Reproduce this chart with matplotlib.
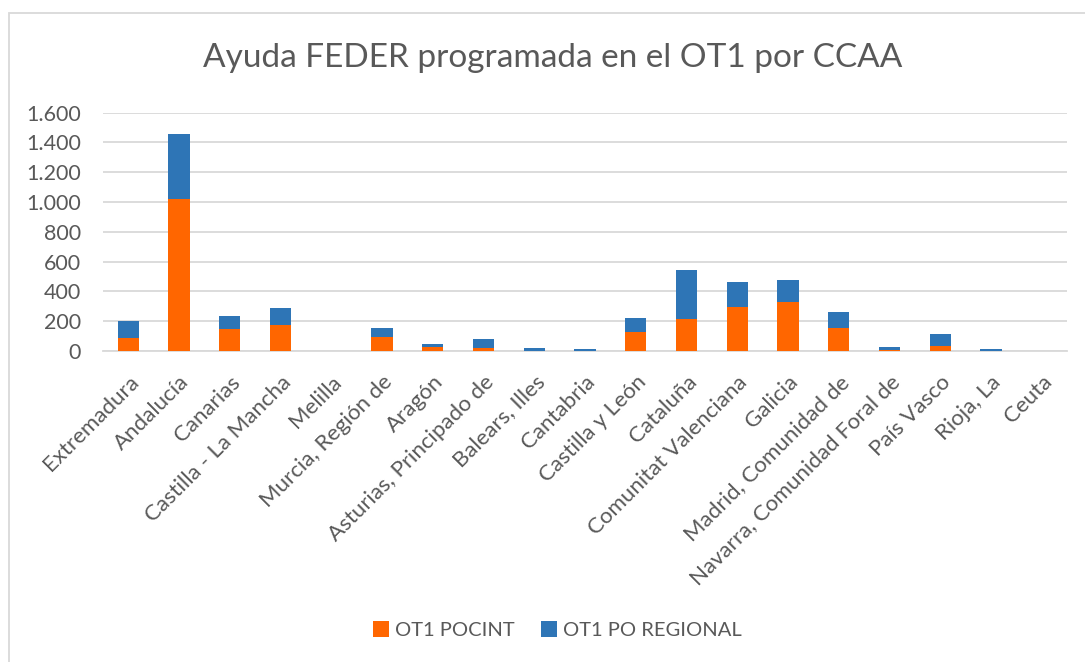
import matplotlib.pyplot as plt
import numpy as np
from matplotlib.patches import Rectangle
from matplotlib.ticker import FuncFormatter

# Data (millones de euros)
regiones = ["Extremadura", "Andalucía", "Canarias", "Castilla - La Mancha", "Melilla",
            "Murcia, Región de", "Aragón", "Asturias, Principado de", "Balears, Illes",
            "Cantabria", "Castilla y León", "Cataluña", "Comunitat Valenciana", "Galicia",
            "Madrid, Comunidad de", "Navarra, Comunidad Foral de", "País Vasco",
            "Rioja, La", "Ceuta"]
ot1_pocint = [88, 1020, 150, 175, 0, 94, 27, 18, 2, 1, 125, 215, 295, 331,
              154, 9, 34, 3, 0]
ot1_po_regional = [112, 436, 85, 114, 0, 60, 20, 65, 18, 12, 94, 329, 166, 146,
                   108, 18, 80, 10, 0]

naranja = "#FF6600"
azul = "#2E75B6"
gris_texto = "#595959"

plt.rcParams["font.family"] = ["Lato", "DejaVu Sans"]

fig = plt.figure(figsize=(10.85, 6.62), dpi=100)
W, H = 1085, 662
ax = fig.add_axes([103 / W, 1 - 351 / H, (1067 - 103) / W, (351 - 112.7) / H])

x = np.arange(len(regiones))
ax.bar(x, ot1_pocint, width=0.42, color=naranja, label="OT1 POCINT", zorder=3)
ax.bar(x, ot1_po_regional, width=0.42, bottom=ot1_pocint, color=azul,
       label="OT1 PO REGIONAL", zorder=3)

ax.set_xlim(-0.5, len(regiones) - 0.5)
ax.set_ylim(0, 1600)
ax.set_yticks(range(0, 1601, 200))
ax.yaxis.set_major_formatter(FuncFormatter(lambda v, p: f"{int(v):,}".replace(",", ".")))
ax.grid(axis="y", color="#D9D9D9", linewidth=1.3, zorder=0)
for s in ["top", "right", "left"]:
    ax.spines[s].set_visible(False)
ax.spines["bottom"].set_color("#D9D9D9")
ax.spines["bottom"].set_linewidth(1.3)
ax.tick_params(axis="y", length=0, labelsize=15.5, colors=gris_texto, pad=16)
ax.tick_params(axis="x", length=0, labelsize=16, colors=gris_texto, pad=15)
ax.set_xticks(x)
ax.set_xticklabels(regiones, rotation=45, ha="right", rotation_mode="anchor")
for lbl in ax.get_xticklabels():
    lbl.set_color(gris_texto)

fig.text(553 / W, 1 - 58 / H, "Ayuda FEDER programada en el OT1 por CCAA",
         ha="center", va="center", fontsize=24, color=gris_texto)

fig.legend(loc="center", bbox_to_anchor=(557 / W, 1 - 630 / H), ncol=2,
           frameon=False, fontsize=14.5, handlelength=0.8, handleheight=0.8,
           columnspacing=1.3, handletextpad=0.3, labelcolor=gris_texto)

# Borde del área del gráfico
fig.patches.append(Rectangle((9 / W, -0.05), 1.1, 1 - 13 / H + 0.05,
                             transform=fig.transFigure, fill=False,
                             edgecolor="#D9D9D9", linewidth=1.3))

fig.savefig("out.png", dpi=100)
